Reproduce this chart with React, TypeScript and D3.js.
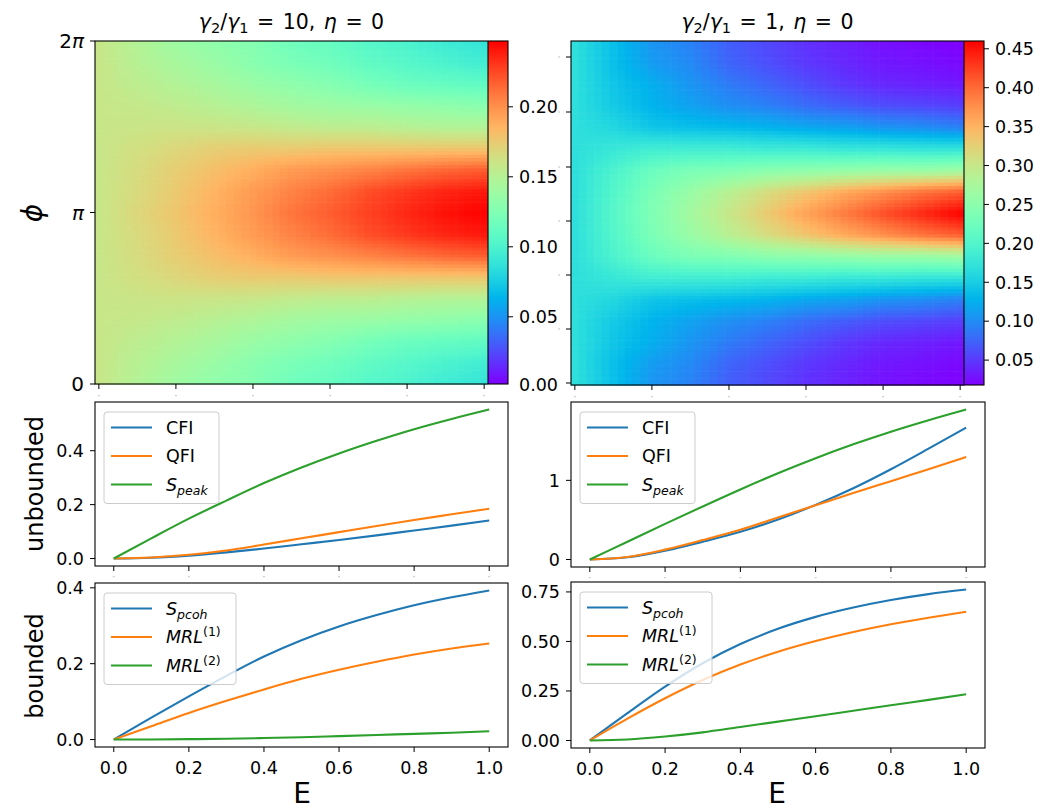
import React from "react";
import * as d3 from "d3";

// ---------------- DATA ----------------
const E_GRID = [0, 0.1, 0.2, 0.3, 0.4, 0.5, 0.6, 0.7, 0.8, 0.9, 1.0];
// rows: phi = k*pi/8, k = 0..16
const heatLeft: number[][] = [
  [0.159, 0.149, 0.139, 0.132, 0.127, 0.117, 0.112, 0.105, 0.100, 0.093, 0.088],
  [0.159, 0.151, 0.144, 0.137, 0.129, 0.122, 0.117, 0.110, 0.105, 0.100, 0.095],
  [0.159, 0.154, 0.149, 0.144, 0.137, 0.132, 0.127, 0.120, 0.115, 0.112, 0.110],
  [0.159, 0.158, 0.155, 0.151, 0.147, 0.142, 0.139, 0.137, 0.134, 0.132, 0.129],
  [0.159, 0.160, 0.161, 0.160, 0.159, 0.156, 0.154, 0.154, 0.151, 0.149, 0.149],
  [0.159, 0.164, 0.169, 0.174, 0.176, 0.176, 0.178, 0.178, 0.178, 0.178, 0.178],
  [0.159, 0.166, 0.174, 0.181, 0.188, 0.196, 0.200, 0.205, 0.210, 0.215, 0.218],
  [0.159, 0.167, 0.176, 0.186, 0.196, 0.205, 0.213, 0.223, 0.230, 0.236, 0.240],
  [0.159, 0.169, 0.178, 0.188, 0.198, 0.210, 0.218, 0.227, 0.235, 0.242, 0.247],
  [0.159, 0.167, 0.176, 0.186, 0.196, 0.205, 0.213, 0.223, 0.230, 0.236, 0.240],
  [0.159, 0.166, 0.174, 0.181, 0.188, 0.196, 0.200, 0.205, 0.210, 0.215, 0.218],
  [0.159, 0.164, 0.169, 0.174, 0.176, 0.176, 0.178, 0.178, 0.178, 0.178, 0.178],
  [0.159, 0.160, 0.161, 0.160, 0.159, 0.156, 0.154, 0.154, 0.151, 0.149, 0.149],
  [0.159, 0.158, 0.155, 0.151, 0.147, 0.142, 0.139, 0.137, 0.134, 0.132, 0.129],
  [0.159, 0.154, 0.149, 0.144, 0.137, 0.132, 0.127, 0.120, 0.115, 0.112, 0.110],
  [0.159, 0.151, 0.144, 0.137, 0.129, 0.122, 0.117, 0.110, 0.105, 0.100, 0.095],
  [0.159, 0.149, 0.139, 0.132, 0.127, 0.117, 0.112, 0.105, 0.100, 0.093, 0.088],
];
const heatRight: number[][] = [
  [0.168, 0.137, 0.106, 0.093, 0.071, 0.058, 0.045, 0.036, 0.027, 0.022, 0.018],
  [0.168, 0.137, 0.111, 0.098, 0.075, 0.062, 0.049, 0.040, 0.031, 0.027, 0.022],
  [0.168, 0.142, 0.124, 0.106, 0.089, 0.075, 0.062, 0.049, 0.040, 0.036, 0.031],
  [0.168, 0.146, 0.128, 0.115, 0.102, 0.093, 0.080, 0.071, 0.062, 0.058, 0.053],
  [0.168, 0.159, 0.142, 0.137, 0.133, 0.128, 0.120, 0.115, 0.106, 0.102, 0.093],
  [0.168, 0.177, 0.186, 0.186, 0.186, 0.182, 0.182, 0.177, 0.177, 0.173, 0.173],
  [0.168, 0.195, 0.221, 0.235, 0.239, 0.248, 0.252, 0.257, 0.261, 0.261, 0.266],
  [0.168, 0.201, 0.235, 0.261, 0.288, 0.314, 0.336, 0.358, 0.376, 0.394, 0.407],
  [0.168, 0.204, 0.239, 0.270, 0.301, 0.332, 0.363, 0.389, 0.416, 0.438, 0.460],
  [0.168, 0.201, 0.235, 0.261, 0.288, 0.314, 0.336, 0.358, 0.376, 0.394, 0.407],
  [0.168, 0.195, 0.221, 0.235, 0.239, 0.248, 0.252, 0.257, 0.261, 0.261, 0.266],
  [0.168, 0.177, 0.186, 0.186, 0.186, 0.182, 0.182, 0.177, 0.177, 0.173, 0.173],
  [0.168, 0.159, 0.142, 0.137, 0.133, 0.128, 0.120, 0.115, 0.106, 0.102, 0.093],
  [0.168, 0.146, 0.128, 0.115, 0.102, 0.093, 0.080, 0.071, 0.062, 0.058, 0.053],
  [0.168, 0.142, 0.124, 0.106, 0.089, 0.075, 0.062, 0.049, 0.040, 0.036, 0.031],
  [0.168, 0.137, 0.111, 0.098, 0.075, 0.062, 0.049, 0.040, 0.031, 0.027, 0.022],
  [0.168, 0.137, 0.106, 0.093, 0.071, 0.058, 0.045, 0.036, 0.027, 0.022, 0.018],
];
const cbarDomainLeft = [0.002, 0.247];
const cbarDomainRight = [0.018, 0.46];
const cbarTicksLeft = [0.05, 0.1, 0.15, 0.2];
const cbarTicksRight = [0.05, 0.1, 0.15, 0.2, 0.25, 0.3, 0.35, 0.4, 0.45];

const E_POINTS = [0, 0.1, 0.2, 0.3, 0.4, 0.5, 0.6, 0.7, 0.8, 0.9, 1.0];
const E_TICKS = [0, 0.2, 0.4, 0.6, 0.8, 1.0];

const cfiLeft = [0, 0.003, 0.011, 0.023, 0.037, 0.053, 0.069, 0.086, 0.104, 0.122, 0.141];
const qfiLeft = [0, 0.004, 0.014, 0.03, 0.052, 0.075, 0.098, 0.121, 0.143, 0.164, 0.185];
const speakLeft = [0, 0.075, 0.148, 0.215, 0.28, 0.338, 0.39, 0.437, 0.48, 0.518, 0.553];
const cfiRight = [0, 0.028, 0.112, 0.225, 0.35, 0.505, 0.69, 0.9, 1.14, 1.4, 1.667];
const qfiRight = [0, 0.032, 0.125, 0.245, 0.375, 0.53, 0.685, 0.84, 0.99, 1.14, 1.295];
const speakRight = [0, 0.225, 0.45, 0.67, 0.885, 1.09, 1.28, 1.455, 1.615, 1.76, 1.895];

const spcohLeft = [0, 0.058, 0.114, 0.168, 0.219, 0.262, 0.298, 0.328, 0.354, 0.375, 0.393];
const mrl1Left = [0, 0.035, 0.07, 0.102, 0.132, 0.16, 0.184, 0.205, 0.224, 0.24, 0.253];
const mrl2Left = [0, 0.0003, 0.001, 0.002, 0.004, 0.006, 0.009, 0.012, 0.015, 0.018, 0.022];
const spcohRight = [0, 0.138, 0.272, 0.39, 0.487, 0.564, 0.624, 0.671, 0.709, 0.739, 0.762];
const mrl1Right = [0, 0.11, 0.213, 0.305, 0.383, 0.448, 0.502, 0.548, 0.587, 0.62, 0.65];
const mrl2Right = [0, 0.005, 0.02, 0.041, 0.068, 0.095, 0.122, 0.15, 0.178, 0.205, 0.233];

const yTicksMidLeft = [0, 0.2, 0.4];
const yTicksMidRight = [0, 1];
const yTicksBotLeft = [0, 0.2, 0.4];
const yTicksBotRight = [0, 0.25, 0.5, 0.75];

// ---------------- STYLE ----------------
const FONT = "'DejaVu Sans', sans-serif";
const C_BLUE = "#1f77b4";
const C_ORANGE = "#ff7f0e";
const C_GREEN = "#2ca02c";
const TICK = 17.5;

function rainbow(t: number): string {
  const u = Math.max(0, Math.min(1, t));
  const r = Math.min(1, Math.abs(2 * u - 0.5));
  const g = Math.sin(Math.PI * u);
  const b = Math.cos((Math.PI * u) / 2);
  return d3.rgb(r * 255, g * 255, b * 255).formatHex();
}

function sampleGrid(grid: number[][], e: number, phi: number): number {
  const gx = d3.scaleLinear().domain([0, 1]).range([0, E_GRID.length - 1]).clamp(true);
  const gy = d3.scaleLinear().domain([0, 2 * Math.PI]).range([0, grid.length - 1]).clamp(true);
  const fx = gx(e);
  const fy = gy(phi);
  const i0 = Math.min(Math.floor(fx), E_GRID.length - 2);
  const j0 = Math.min(Math.floor(fy), grid.length - 2);
  const tx = fx - i0;
  const ty = fy - j0;
  const a = grid[j0][i0] * (1 - tx) + grid[j0][i0 + 1] * tx;
  const b = grid[j0 + 1][i0] * (1 - tx) + grid[j0 + 1][i0 + 1] * tx;
  return a * (1 - ty) + b * ty;
}

type HeatProps = {
  id: string;
  grid: number[][];
  domain: number[];
  x0: number;
  x1: number;
  cx1: number;
  y0: number;
  y1: number;
  cticks: number[];
};

function Heatmap({ id, grid, domain, x0, x1, cx1, y0, y1, cticks }: HeatProps) {
  const xs = d3.scaleLinear().domain([-0.01, 1.01]).range([x0, x1]);
  const ys = d3.scaleLinear().domain([0, 2 * Math.PI]).range([y1, y0]);
  const norm = d3.scaleLinear().domain(domain).range([0, 1]);
  const nCols = 51;
  const nRows = 100;
  const cells: JSX.Element[] = [];
  for (let i = 0; i < nCols; i++) {
    const e = i * 0.02;
    const xa = xs(e - 0.01);
    const xb = xs(e + 0.01);
    for (let j = 0; j < nRows; j++) {
      const pLo = (j * 2 * Math.PI) / nRows;
      const pHi = ((j + 1) * 2 * Math.PI) / nRows;
      const v = sampleGrid(grid, e, (pLo + pHi) / 2);
      cells.push(
        <rect
          key={i * 1000 + j}
          x={xa}
          y={ys(pHi)}
          width={xb - xa + 0.6}
          height={ys(pLo) - ys(pHi) + 0.6}
          fill={rainbow(norm(v))}
        />
      );
    }
  }
  const cs = d3.scaleLinear().domain(domain).range([y1, y0]);
  const stops = d3.range(0, 1.0001, 0.05);
  return (
    <g>
      <defs>
        <linearGradient id={id} x1="0" y1="1" x2="0" y2="0">
          {stops.map((s) => (
            <stop key={s} offset={s} stopColor={rainbow(s)} />
          ))}
        </linearGradient>
      </defs>
      <g>{cells}</g>
      <rect x={x1} y={y0} width={cx1 - x1} height={y1 - y0} fill={`url(#${id})`} />
      <rect x={x0} y={y0} width={cx1 - x0} height={y1 - y0} fill="none" stroke="#000" strokeWidth={1.1} />
      <line x1={x1} x2={x1} y1={y0} y2={y1} stroke="#000" strokeWidth={1.1} />
      {cticks.map((t) => (
        <g key={t}>
          <line x1={cx1} x2={cx1 + 5} y1={cs(t)} y2={cs(t)} stroke="#000" strokeWidth={1} />
          <text x={cx1 + 11} y={cs(t)} dy="0.36em" fontSize={TICK} fontFamily={FONT}>
            {d3.format(".2f")(t)}
          </text>
        </g>
      ))}
      {E_TICKS.map((t) => (
        <g key={t}>
          <line x1={xs(t)} x2={xs(t)} y1={y1} y2={y1 + 5} stroke="#000" strokeWidth={1} />
          <rect x={xs(t) - 1} y={y1 + 11} width={2} height={1.2} fill="#ccc" />
        </g>
      ))}
    </g>
  );
}

type Series = { values: number[]; color: string };
type LineProps = {
  x0: number;
  x1: number;
  y0: number;
  y1: number;
  series: Series[];
  yticks: number[];
  yfmt: string;
  showXLabels: boolean;
  legend: { color: string; label: JSX.Element }[];
  legendW: number;
};

function LinePanel({ x0, x1, y0, y1, series, yticks, yfmt, showXLabels, legend, legendW }: LineProps) {
  const xs = d3.scaleLinear().domain([-0.05, 1.05]).range([x0, x1]);
  const allVals = series.flatMap((s) => s.values);
  const [mn, mx] = d3.extent(allVals) as [number, number];
  const pad = (mx - mn) * 0.05;
  const ys = d3.scaleLinear().domain([mn - pad, mx + pad]).range([y1, y0]);
  const line = d3
    .line<number>()
    .x((_, i) => xs(E_POINTS[i]))
    .y((d) => ys(d))
    .curve(d3.curveMonotoneX);
  const lx = x0 + 9;
  const ly = y0 + 10;
  const rowH = 28.5;
  return (
    <g>
      {series.map((s, k) => (
        <path key={k} d={line(s.values) || ""} fill="none" stroke={s.color} strokeWidth={2.1} />
      ))}
      <rect x={x0} y={y0} width={x1 - x0} height={y1 - y0} fill="none" stroke="#000" strokeWidth={1.1} />
      {yticks.map((t) => (
        <g key={t}>
          <line x1={x0 - 5} x2={x0} y1={ys(t)} y2={ys(t)} stroke="#000" strokeWidth={1} />
          <text x={x0 - 11} y={ys(t)} dy="0.36em" textAnchor="end" fontSize={TICK} fontFamily={FONT}>
            {d3.format(yfmt)(t)}
          </text>
        </g>
      ))}
      {E_TICKS.map((t) => (
        <g key={t}>
          <line x1={xs(t)} x2={xs(t)} y1={y1} y2={y1 + 5} stroke="#000" strokeWidth={1} />
          {showXLabels ? (
            <text x={xs(t)} y={y1 + 26.5} textAnchor="middle" fontSize={TICK} fontFamily={FONT}>
              {d3.format(".1f")(t)}
            </text>
          ) : (
            <rect x={xs(t) - 1} y={y1 + 10} width={2} height={1.2} fill="#ccc" />
          )}
        </g>
      ))}
      <rect
        x={lx}
        y={ly}
        width={legendW}
        height={rowH * 3 + 6}
        rx={3}
        fill="#fff"
        fillOpacity={0.8}
        stroke="#ccc"
        strokeWidth={1}
      />
      {legend.map((l, k) => {
        const cy = ly + 15.5 + k * rowH;
        return (
          <g key={k}>
            <line x1={x0 + 16} x2={x0 + 57} y1={cy} y2={cy} stroke={l.color} strokeWidth={2.1} />
            <text x={x0 + 71} y={cy} dy="0.36em" fontSize={TICK} fontFamily={FONT}>
              {l.label}
            </text>
          </g>
        );
      })}
    </g>
  );
}

const lblCFI = <tspan>CFI</tspan>;
const lblQFI = <tspan>QFI</tspan>;
const lblSpeak = (
  <>
    <tspan fontStyle="italic">S</tspan>
    <tspan fontStyle="italic" fontSize={12.5} dy={4}>
      peak
    </tspan>
  </>
);
const lblSpcoh = (
  <>
    <tspan fontStyle="italic">S</tspan>
    <tspan fontStyle="italic" fontSize={12.5} dy={4}>
      pcoh
    </tspan>
  </>
);
const lblMRL = (n: string) => (
  <>
    <tspan fontStyle="italic">MRL</tspan>
    <tspan fontSize={12.5} dy={-7}>
      {n}
    </tspan>
  </>
);

function Title({ x, ratio }: { x: number; ratio: string }) {
  return (
    <text x={x} y={29} textAnchor="middle" fontSize={20.5} fontFamily={FONT} wordSpacing={2}>
      <tspan fontStyle="italic">γ</tspan>
      <tspan fontSize={14.5} dy={4}>2</tspan>
      <tspan dy={-4}>/</tspan>
      <tspan fontStyle="italic">γ</tspan>
      <tspan fontSize={14.5} dy={4}>1</tspan>
      <tspan dy={-4}>{` = ${ratio}, `}</tspan>
      <tspan fontStyle="italic">η</tspan>
      <tspan> = 0</tspan>
    </text>
  );
}

export default function App() {
  const phiScale = d3.scaleLinear().domain([0, 2 * Math.PI]).range([384, 41]);
  const rightYTicks = [57, 112, 167, 221, 275, 329];
  return (
    <svg
      width={1056}
      height={811}
      style={{ position: "absolute", left: 0, top: 0, background: "#fff" }}
      fontFamily={FONT}
    >
      <rect x={0} y={0} width={1056} height={811} fill="#fff" />
      <Title x={(95 + 488) / 2} ratio="10" />
      <Title x={(571 + 964) / 2} ratio="1" />

      <Heatmap id="cbL" grid={heatLeft} domain={cbarDomainLeft} x0={95} x1={488} cx1={508} y0={41} y1={384} cticks={cbarTicksLeft} />
      <Heatmap id="cbR" grid={heatRight} domain={cbarDomainRight} x0={571} x1={964} cx1={984} y0={41} y1={385} cticks={cbarTicksRight} />

      {/* left heatmap phi axis */}
      {[
        { v: 0, t: <tspan>0</tspan> },
        { v: Math.PI, t: <tspan fontStyle="italic">π</tspan> },
        {
          v: 2 * Math.PI,
          t: (
            <>
              <tspan>2</tspan>
              <tspan fontStyle="italic">π</tspan>
            </>
          ),
        },
      ].map((d, k) => (
        <g key={k}>
          <line x1={90} x2={95} y1={phiScale(d.v)} y2={phiScale(d.v)} stroke="#000" strokeWidth={1} />
          <text x={84} y={phiScale(d.v)} dy="0.36em" textAnchor="end" fontSize={20} fontFamily={FONT}>
            {d.t}
          </text>
        </g>
      ))}
      <text
        transform="translate(42,213) rotate(-90)"
        textAnchor="middle"
        fontSize={28}
        fontStyle="italic"
        fontFamily={FONT}
      >
        ϕ
      </text>

      {/* right heatmap left ticks */}
      {rightYTicks.map((y) => (
        <g key={y}>
          <line x1={566} x2={571} y1={y} y2={y} stroke="#000" strokeWidth={1} />
          <rect x={558} y={y - 0.6} width={2} height={1.2} fill="#ccc" />
        </g>
      ))}
      <line x1={566} x2={571} y1={383} y2={383} stroke="#000" strokeWidth={1} />
      <text x={519} y={385} dy="0.36em" fontSize={TICK} fontFamily={FONT}>
        0.00
      </text>

      <LinePanel
        x0={95}
        x1={508}
        y0={402}
        y1={566}
        series={[
          { values: cfiLeft, color: C_BLUE },
          { values: qfiLeft, color: C_ORANGE },
          { values: speakLeft, color: C_GREEN },
        ]}
        yticks={yTicksMidLeft}
        yfmt=".1f"
        showXLabels={false}
        legend={[
          { color: C_BLUE, label: lblCFI },
          { color: C_ORANGE, label: lblQFI },
          { color: C_GREEN, label: lblSpeak },
        ]}
        legendW={115}
      />
      <LinePanel
        x0={571}
        x1={985}
        y0={402}
        y1={567}
        series={[
          { values: cfiRight, color: C_BLUE },
          { values: qfiRight, color: C_ORANGE },
          { values: speakRight, color: C_GREEN },
        ]}
        yticks={yTicksMidRight}
        yfmt=".0f"
        showXLabels={false}
        legend={[
          { color: C_BLUE, label: lblCFI },
          { color: C_ORANGE, label: lblQFI },
          { color: C_GREEN, label: lblSpeak },
        ]}
        legendW={115}
      />
      <LinePanel
        x0={95}
        x1={508}
        y0={583}
        y1={747}
        series={[
          { values: spcohLeft, color: C_BLUE },
          { values: mrl1Left, color: C_ORANGE },
          { values: mrl2Left, color: C_GREEN },
        ]}
        yticks={yTicksBotLeft}
        yfmt=".1f"
        showXLabels={true}
        legend={[
          { color: C_BLUE, label: lblSpcoh },
          { color: C_ORANGE, label: lblMRL("(1)") },
          { color: C_GREEN, label: lblMRL("(2)") },
        ]}
        legendW={132}
      />
      <LinePanel
        x0={571}
        x1={985}
        y0={582}
        y1={748}
        series={[
          { values: spcohRight, color: C_BLUE },
          { values: mrl1Right, color: C_ORANGE },
          { values: mrl2Right, color: C_GREEN },
        ]}
        yticks={yTicksBotRight}
        yfmt=".2f"
        showXLabels={true}
        legend={[
          { color: C_BLUE, label: lblSpcoh },
          { color: C_ORANGE, label: lblMRL("(1)") },
          { color: C_GREEN, label: lblMRL("(2)") },
        ]}
        legendW={132}
      />

      <text transform="translate(43,484) rotate(-90)" textAnchor="middle" fontSize={24} fontFamily={FONT}>
        unbounded
      </text>
      <text transform="translate(43,666) rotate(-90)" textAnchor="middle" fontSize={24} fontFamily={FONT}>
        bounded
      </text>
      <text x={302} y={803} textAnchor="middle" fontSize={28} fontFamily={FONT}>
        E
      </text>
      <text x={777} y={803} textAnchor="middle" fontSize={28} fontFamily={FONT}>
        E
      </text>
    </svg>
  );
}
